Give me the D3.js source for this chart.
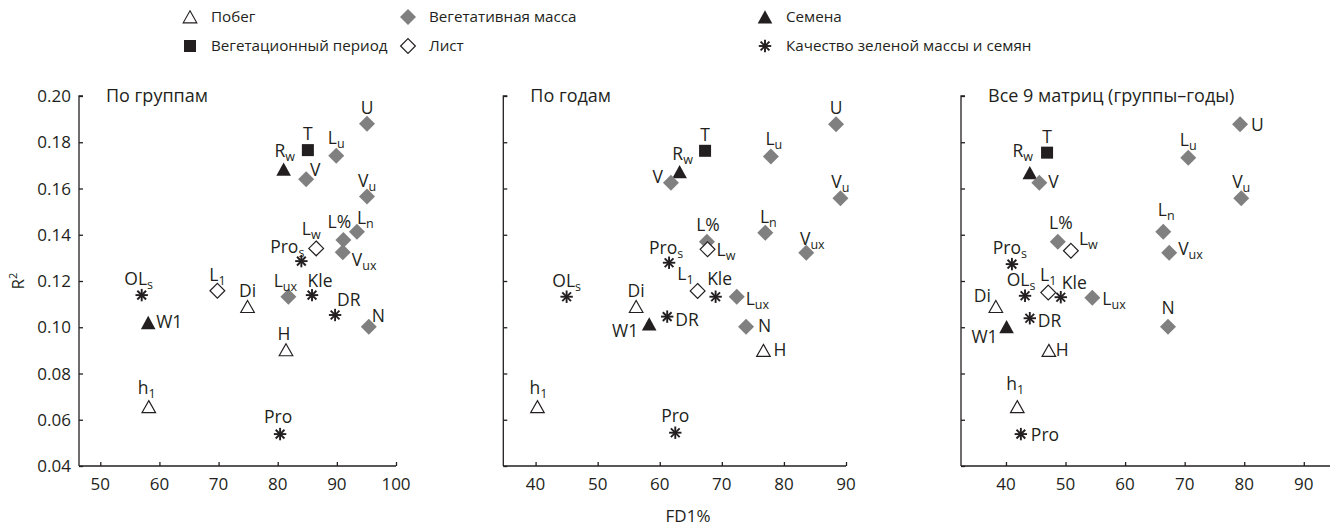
<!DOCTYPE html>
<html>
<head>
<meta charset="utf-8">
<script src="https://cdn.jsdelivr.net/npm/d3@7"></script>
<style>
  body { margin: 0; background: #fff; }
  svg text { font-family: "Open Sans", sans-serif; fill: #231f20; }
</style>
</head>
<body>
<svg id="chart" width="1336" height="529"></svg>
<script>
// ---- data ----
const traits = ["U", "T", "L_u", "R_w", "V", "V_u", "L_n", "L%", "L_w", "V_ux", "Pro_s",
                "OL_s", "L_1", "Kle", "L_ux", "Di", "DR", "W1", "N", "H", "h_1", "Pro"];
const traitGroup = ["mass", "period", "mass", "seed", "mass", "mass", "mass", "mass", "leaf", "mass", "quality",
                    "quality", "leaf", "quality", "mass", "shoot", "quality", "seed", "mass", "shoot", "shoot", "quality"];

// FD1% and R² by groups
const fdByGroups = [95.1, 85.1, 89.9, 81.0, 84.8, 95.1, 93.4, 91.1, 86.5, 91.0, 84.0,
                    57.0, 69.8, 85.8, 81.8, 74.9, 89.7, 58.1, 95.4, 81.4, 58.2, 80.4];
const r2ByGroups = [0.188, 0.1766, 0.1742, 0.1683, 0.164, 0.1565, 0.1413, 0.1377, 0.1341, 0.1324, 0.1286,
                    0.1139, 0.1158, 0.1139, 0.1132, 0.1089, 0.1053, 0.102, 0.1002, 0.0902, 0.0656, 0.0538];
// by years
const fdByYears = [88.4, 67.3, 77.9, 63.2, 61.8, 89.1, 77.0, 67.6, 67.7, 83.6, 61.5,
                   45.0, 66.1, 69.0, 72.4, 56.2, 61.2, 58.3, 73.9, 76.7, 40.3, 62.5];
const r2ByYears = [0.1878, 0.1763, 0.1738, 0.1672, 0.1625, 0.1558, 0.1409, 0.137, 0.1337, 0.1322, 0.1279,
                   0.1132, 0.1157, 0.1132, 0.1132, 0.1089, 0.1046, 0.1014, 0.1002, 0.0899, 0.0656, 0.0544];
// all 9 matrices
const fdAll = [79.3, 46.9, 70.6, 44.0, 45.6, 79.5, 66.4, 48.7, 50.9, 67.4, 41.0,
               43.2, 47.1, 49.2, 54.5, 38.3, 44.0, 40.1, 67.2, 47.2, 41.9, 42.5];
const r2All = [0.1878, 0.1755, 0.1733, 0.1668, 0.1625, 0.1558, 0.1413, 0.137, 0.1331, 0.1322, 0.1273,
               0.1136, 0.115, 0.113, 0.1128, 0.1089, 0.1039, 0.1002, 0.1002, 0.0899, 0.0656, 0.0538];

const panelTitles = ["По группам", "По годам", "Все 9 матриц (группы–годы)"];
const xTicksGroups = [50, 60, 70, 80, 90, 100];
const xTicksYears = [40, 50, 60, 70, 80, 90];
const xTicksAll = [40, 50, 60, 70, 80, 90];
const yTicks = [0.04, 0.06, 0.08, 0.10, 0.12, 0.14, 0.16, 0.18, 0.20];

const legendKeys = ["shoot", "mass", "seed", "period", "leaf", "quality"];
const legendNames = ["Побег", "Вегетативная масса", "Семена",
                     "Вегетационный период", "Лист", "Качество зеленой массы и семян"];

const xTitle = "FD1%";

// ---- layout ----
const INK = "#231f20";
const GRAY = "#808080";
const yTop = 96, yBottom = 466;

const panels = [
  { title: panelTitles[0], fd: fdByGroups, r2: r2ByGroups, ticks: xTicksGroups,
    domain: [46.4, 100], range: [79, 396], tickLabelsY: true,
    place: {
      "L_u": ["middle", 0, -12], "R_w": ["middle", 1, -12], "V": ["start", 4, -3],
      "L_n": ["start", 0, -8], "L%": ["middle", -4, -12], "V_ux": ["start", 9, 14],
      "L_w": ["middle", -5, -13], "Pro_s": ["end", 3, -8], "Kle": ["middle", 8, -8],
      "DR": ["start", 2, -9], "N": ["start", 3, -5], "W1": ["start", 8, 5],
      "h_1": ["middle", -2, -13], "OL_s": ["middle", -3, -10], "L_ux": ["middle", -3, -10],
      "H": ["middle", -2, -10], "Pro": ["middle", -2, -11]
    } },
  { title: panelTitles[1], fd: fdByYears, r2: r2ByYears, ticks: xTicksYears,
    domain: [34.8, 90], range: [503.3, 846], tickLabelsY: false,
    place: {
      "L_u": ["middle", 3, -12], "R_w": ["middle", 3, -12], "V": ["end", -8, 0],
      "L_n": ["middle", 3, -10], "L%": ["middle", 1, -11], "L_w": ["start", 9, 7],
      "V_ux": ["middle", 6, -8], "Pro_s": ["middle", -3, -9], "L_1": ["end", -4, -11],
      "Kle": ["middle", 4, -12], "L_ux": ["start", 9, 8], "DR": ["start", 8, 9],
      "W1": ["end", -11, 13], "N": ["start", 12, 5], "H": ["start", 10, 5],
      "h_1": ["middle", 1, -13], "Pro": ["middle", 0, -11]
    } },
  { title: panelTitles[2], fd: fdAll, r2: r2All, ticks: xTicksAll,
    domain: [32.45, 94.4], range: [961, 1330], tickLabelsY: false,
    place: {
      "U": ["start", 11, 7], "L_u": ["middle", 0, -12], "R_w": ["middle", -7, -16],
      "V": ["start", 9, 5], "L_n": ["middle", 3, -16], "L%": ["middle", 3, -13],
      "L_w": ["start", 8, -6], "V_ux": ["start", 9, 2], "Pro_s": ["middle", -2, -10],
      "OL_s": ["middle", -4, -10], "L_1": ["middle", 0, -12], "Kle": ["start", 1, -8],
      "L_ux": ["start", 10, 7], "Di": ["end", -5, -5], "DR": ["start", 8, 9],
      "W1": ["end", -9, 16], "N": ["middle", 0, -13], "H": ["start", 7, 5],
      "h_1": ["middle", -2, -17], "Pro": ["start", 10, 7]
    } }
];

const svg = d3.select("#chart");
const y = d3.scaleLinear().domain([0.04, 0.20]).range([yBottom, yTop]);

// marker drawing by trait group
function drawMarker(g, key) {
  if (key === "mass") {
    g.append("path").attr("d", "M0,-8L8,0L0,8L-8,0Z").attr("fill", GRAY);
  } else if (key === "leaf") {
    g.append("path").attr("d", "M0,-7.4L7.4,0L0,7.4L-7.4,0Z")
      .attr("fill", "#fff").attr("stroke", INK).attr("stroke-width", 1.2);
  } else if (key === "seed") {
    g.append("path").attr("d", "M0,-6.8L7.3,6.5L-7.3,6.5Z").attr("fill", INK);
  } else if (key === "shoot") {
    g.append("path").attr("d", "M0,-6.2L6.8,5.8L-6.8,5.8Z")
      .attr("fill", "#fff").attr("stroke", INK).attr("stroke-width", 1.15);
  } else if (key === "period") {
    g.append("rect").attr("x", -6).attr("y", -6).attr("width", 12).attr("height", 12)
      .attr("fill", INK);
  } else if (key === "quality") {
    const r = 6.2;
    [0, 45, 90, 135].forEach(a => {
      const t = a * Math.PI / 180;
      g.append("line")
        .attr("x1", -r * Math.cos(t)).attr("y1", -r * Math.sin(t))
        .attr("x2", r * Math.cos(t)).attr("y2", r * Math.sin(t))
        .attr("stroke", INK).attr("stroke-width", 1.9);
    });
  }
}

// label with optional subscript (text after "_")
function drawLabel(g, name, anchor, dx, dy) {
  const [main, sub] = name.split("_");
  const t = g.append("text").attr("x", dx).attr("y", dy)
    .attr("text-anchor", anchor).attr("font-size", 17.5);
  t.append("tspan").text(main);
  if (sub) t.append("tspan").attr("dy", 4).attr("font-size", 12.5).text(sub);
}

panels.forEach(p => {
  const x = d3.scaleLinear().domain(p.domain).range(p.range);
  const x0 = p.range[0];
  const gp = svg.append("g");

  // y axis
  const yAxis = gp.append("g").attr("transform", `translate(${x0},0)`)
    .call(d3.axisRight(y).tickValues(yTicks).tickSize(4).tickFormat(""));
  yAxis.select(".domain").attr("d", `M4,${yTop}H0V${yBottom}`);
  if (p.tickLabelsY) {
    gp.selectAll(".ylab").data(yTicks).join("text")
      .attr("x", x0 - 8).attr("y", d => y(d)).attr("dy", "0.36em")
      .attr("text-anchor", "end").attr("font-size", 17)
      .text(d => d3.format(".2f")(d));
  }

  // x axis
  const xAxis = gp.append("g").attr("transform", `translate(0,${yBottom})`)
    .call(d3.axisTop(x).tickValues(p.ticks).tickSize(4).tickFormat(""));
  xAxis.select(".domain").attr("d", `M${x0},0H${p.range[1]}`);
  gp.selectAll(".xlab").data(p.ticks).join("text")
    .attr("x", d => x(d)).attr("y", 489.5)
    .attr("text-anchor", "middle").attr("font-size", 17)
    .text(d => d);

  gp.selectAll(".domain, .tick line").attr("stroke", INK).attr("stroke-width", 1.3);

  // title
  gp.append("text").attr("x", x0 + 27).attr("y", 101.7)
    .attr("font-size", 18).text(p.title);

  // marks
  const pts = traits.map((name, i) => ({ name, key: traitGroup[i], fd: p.fd[i], r2: p.r2[i] }));
  pts.forEach(d => {
    const g = gp.append("g").attr("transform", `translate(${x(d.fd)},${y(d.r2)})`);
    drawMarker(g, d.key);
  });
  pts.forEach(d => {
    const g = gp.append("g").attr("transform", `translate(${x(d.fd)},${y(d.r2)})`);
    const pl = p.place[d.name] || ["middle", 0, -10];
    drawLabel(g, d.name, pl[0], pl[1], pl[2]);
  });
});

// axis titles
const rLab = svg.append("text").attr("transform", `translate(24,${(yTop + yBottom) / 2}) rotate(-90)`)
  .attr("text-anchor", "middle").attr("font-size", 17);
rLab.append("tspan").text("R");
rLab.append("tspan").attr("dy", -7).attr("font-size", 11).text("2");

svg.append("text").attr("x", 688).attr("y", 521.5).attr("text-anchor", "middle")
  .attr("font-size", 17).text(xTitle);

// legend: three columns, two rows
const legCols = [190, 408, 765];
const legRows = [17, 46];
legendKeys.forEach((k, i) => {
  const cx = legCols[i % 3], cy = legRows[Math.floor(i / 3)];
  const g = svg.append("g").attr("transform", `translate(${cx},${cy})`);
  drawMarker(g, k);
  svg.append("text").attr("x", cx + 21).attr("y", cy).attr("dy", "0.36em")
    .attr("font-size", 15.2).text(legendNames[i]);
});
</script>
</body>
</html>
